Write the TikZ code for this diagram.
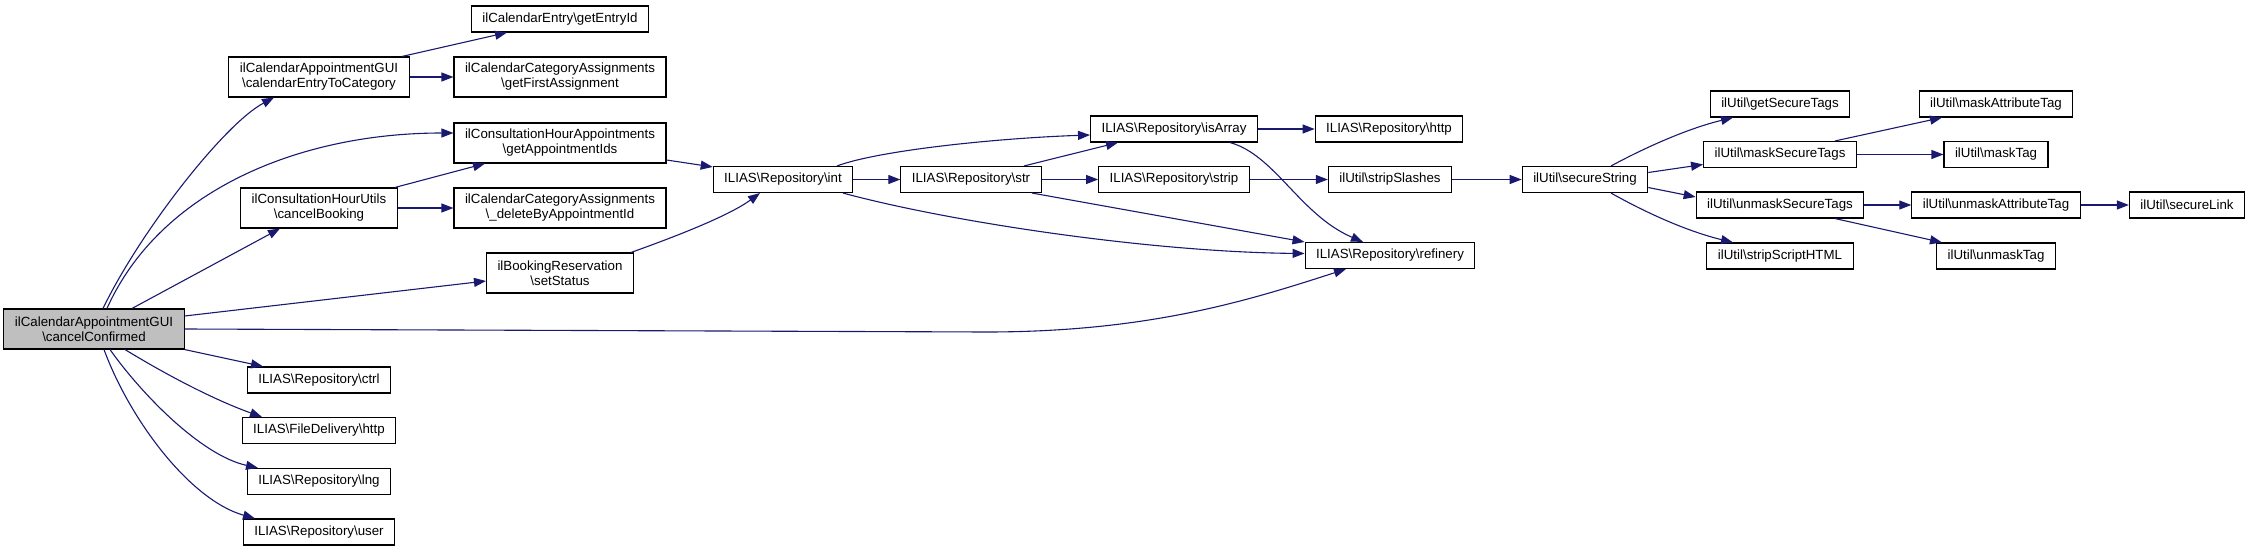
\documentclass[tikz,border=0pt]{standalone}
\usepackage{fontspec}
\setmainfont{Liberation Sans}
\usetikzlibrary{arrows.meta}
\definecolor{callblue}{HTML}{191970}
\newcommand{\bsl}{\textbackslash}

\begin{document}
\begin{tikzpicture}[x=1pt, y=-1pt,
    font=\fontsize{13.3}{15}\selectfont,
    fn/.style={draw=black, line width=1.1pt, rectangle, fill=white,
               inner xsep=11pt, inner ysep=2pt, minimum height=26pt},
    fn2/.style={fn, align=center, minimum height=40pt},
    call/.style={draw=callblue, line width=1.1pt,
                 -{Triangle[length=12pt,width=9pt]}}]
    \useasboundingbox (0,0) rectangle (2249,551);

    % caller and first level
    \node[fn2, fill=gray!50] (cc) at (94,329) {ilCalendarAppointmentGUI\\\bsl cancelConfirmed};
    \node[fn2] (cetc) at (319,77) {ilCalendarAppointmentGUI\\\bsl calendarEntryToCategory};
    \node[fn2] (cb) at (319,208) {ilConsultationHourUtils\\\bsl cancelBooking};
    \node[fn] (ctrl) at (319,380) {ILIAS\bsl Repository\bsl ctrl};
    \node[fn] (fdhttp) at (319,430.5) {ILIAS\bsl FileDelivery\bsl http};
    \node[fn] (lng) at (319,481.5) {ILIAS\bsl Repository\bsl lng};
    \node[fn] (user) at (319,532) {ILIAS\bsl Repository\bsl user};

    \node[fn] (entryid) at (560,19) {ilCalendarEntry\bsl getEntryId};
    \node[fn2] (firstass) at (560,77) {ilCalendarCategoryAssignments\\\bsl getFirstAssignment};
    \node[fn2] (apptids) at (560,143) {ilConsultationHourAppointments\\\bsl getAppointmentIds};
    \node[fn2] (delbyappt) at (560,208) {ilCalendarCategoryAssignments\\\bsl\_deleteByAppointmentId};
    \node[fn2] (setstatus) at (560,273) {ilBookingReservation\\\bsl setStatus};

    % repository
    \node[fn] (int) at (783,179.5) {ILIAS\bsl Repository\bsl int};
    \node[fn] (str) at (971,179.5) {ILIAS\bsl Repository\bsl str};
    \node[fn] (isarray) at (1174,129) {ILIAS\bsl Repository\bsl isArray};
    \node[fn] (strip) at (1174,179.5) {ILIAS\bsl Repository\bsl strip};
    \node[fn] (rhttp) at (1389,129) {ILIAS\bsl Repository\bsl http};
    \node[fn] (stripslashes) at (1390,179.5) {ilUtil\bsl stripSlashes};
    \node[fn] (refinery) at (1390,255.5) {ILIAS\bsl Repository\bsl refinery};

    % ilUtil
    \node[fn] (securestr) at (1585,179.5) {ilUtil\bsl secureString};
    \node[fn] (getsectags) at (1780,104) {ilUtil\bsl getSecureTags};
    \node[fn] (masksectags) at (1780,154.5) {ilUtil\bsl maskSecureTags};
    \node[fn] (unmasksectags) at (1780,205) {ilUtil\bsl unmaskSecureTags};
    \node[fn] (stripscript) at (1780,256) {ilUtil\bsl stripScriptHTML};
    \node[fn] (maskattr) at (1996,104) {ilUtil\bsl maskAttributeTag};
    \node[fn] (masktag) at (1996,154.5) {ilUtil\bsl maskTag};
    \node[fn] (unmaskattr) at (1996,205) {ilUtil\bsl unmaskAttributeTag};
    \node[fn] (unmasktag) at (1996,256) {ilUtil\bsl unmaskTag};
    \node[fn] (securelink) at (2187,205) {ilUtil\bsl secureLink};

    % calls from cancelConfirmed
    \draw[call] ([xshift=9pt]cc.north) .. controls (140,232) and (224,124) .. ([xshift=-45pt]cetc.south);
    \draw[call] ([xshift=13pt]cc.north) .. controls (160,190) and (300,133) .. ([yshift=10pt]apptids.west);
    \draw[call] ([xshift=38pt]cc.north) -- ([xshift=-39pt]cb.south);
    \draw[call] ([yshift=13pt]cc.east) -- ([yshift=-8pt]setstatus.west);
    \coordinate (kink) at (986,332);
    \draw[call] (cc.east) -- (kink) .. controls (1150,332) and (1250,300) .. ([xshift=-44pt]refinery.south);
    \draw[call] (cc.south east) -- ([xshift=-56pt]ctrl.north);
    \draw[call] ([xshift=31pt]cc.south) .. controls (175,380) and (220,402) .. ([xshift=-57pt]fdhttp.north);
    \draw[call] ([xshift=16pt]cc.south) .. controls (140,392) and (200,455) .. ([xshift=-61pt]lng.north);
    \draw[call] ([xshift=10pt]cc.south) .. controls (130,420) and (190,500) .. ([xshift=-64pt]user.north);

    \draw[call] ([xshift=83pt]cetc.north) -- ([xshift=-53pt]entryid.south);
    \draw[call] (cetc.east) -- (firstass.west);
    \draw[call] ([xshift=76pt]cb.north) -- ([xshift=-75pt]apptids.south);
    \draw[call] (cb.east) -- (delbyappt.west);
    \draw[call] ([yshift=-17pt]apptids.east) -- ([yshift=-1pt]int.north west);
    \draw[call] ([xshift=-3pt]setstatus.north east) .. controls (680,235) and (730,215) .. ([xshift=-23pt]int.south);

    % repository calls
    \draw[call] ([xshift=54pt]int.north) .. controls (880,150) and (1000,138) .. ([yshift=-6pt]isarray.west);
    \draw[call] (int.east) -- (str.west);
    \draw[call] ([xshift=60pt]int.south) .. controls (950,222) and (1150,252) .. ([yshift=2pt]refinery.west);
    \draw[call] ([xshift=53pt]str.north) -- ([xshift=-56pt]isarray.south);
    \draw[call] (str.east) -- (strip.west);
    \draw[call] ([xshift=61pt]str.south) -- (refinery.north west);
    \draw[call] (isarray.east) -- (rhttp.west);
    \draw[call] ([xshift=56pt]isarray.south) .. controls (1275,155) and (1300,215) .. ([xshift=-27pt]refinery.north);
    \draw[call] (strip.east) -- (stripslashes.west);
    \draw[call] (stripslashes.east) -- (securestr.west);

    % ilUtil calls
    \draw[call] ([xshift=26pt]securestr.north) .. controls (1650,145) and (1690,128) .. ([xshift=-47pt]getsectags.south);
    \draw[call] ([yshift=7pt]securestr.east) -- ([yshift=-10pt]masksectags.west);
    \draw[call] ([yshift=-8pt]securestr.east) -- ([yshift=8pt]unmasksectags.west);
    \draw[call] ([xshift=26pt]securestr.south) .. controls (1650,215) and (1690,232) .. ([xshift=-47pt]stripscript.north);
    \draw[call] ([xshift=55pt]masksectags.north) -- ([xshift=-54pt]maskattr.south);
    \draw[call] (masksectags.east) -- (masktag.west);
    \draw[call] (unmasksectags.east) -- (unmaskattr.west);
    \draw[call] ([xshift=55pt]unmasksectags.south) -- ([xshift=-54pt]unmasktag.north);
    \draw[call] (unmaskattr.east) -- (securelink.west);
\end{tikzpicture}
\end{document}
